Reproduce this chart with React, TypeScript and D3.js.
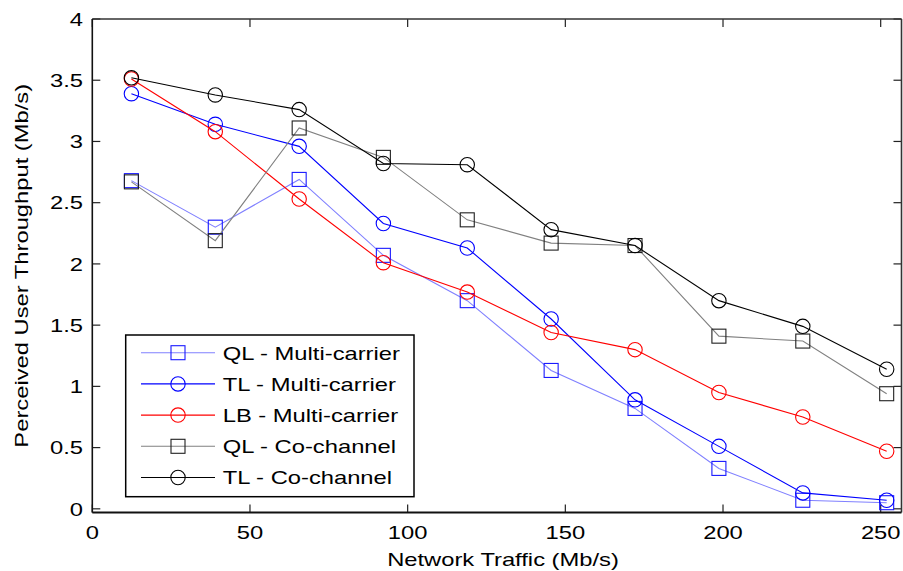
import React from "react";
import * as d3 from "d3";

const xValues = [12.4, 39.0, 65.6, 92.3, 118.9, 145.5, 172.1, 198.7, 225.3, 251.9];
const qlMulti = [2.68, 2.30, 2.69, 2.07, 1.70, 1.13, 0.82, 0.33, 0.07, 0.05];
const tlMulti = [3.39, 3.14, 2.96, 2.33, 2.13, 1.55, 0.89, 0.51, 0.13, 0.07];
const lbMulti = [3.51, 3.08, 2.53, 2.01, 1.77, 1.44, 1.30, 0.95, 0.75, 0.47];
const qlCo = [2.67, 2.19, 3.11, 2.87, 2.36, 2.17, 2.15, 1.41, 1.37, 0.94];
const tlCo = [3.52, 3.38, 3.26, 2.82, 2.81, 2.28, 2.15, 1.70, 1.49, 1.14];

const xTicks = [0, 50, 100, 150, 200, 250];
const yTicks = [0, 0.5, 1, 1.5, 2, 2.5, 3, 3.5, 4];
const yTickLabels = ["0", "0.5", "1", "1.5", "2", "2.5", "3", "3.5", "4"];

const seriesNames = [
  "QL - Multi-carrier",
  "TL - Multi-carrier",
  "LB - Multi-carrier",
  "QL - Co-channel",
  "TL - Co-channel",
];

const series = [
  { name: seriesNames[0], values: qlMulti, line: "#8080ff", marker: "#1a1aff", shape: "square" },
  { name: seriesNames[1], values: tlMulti, line: "#0000ff", marker: "#0000ff", shape: "circle" },
  { name: seriesNames[2], values: lbMulti, line: "#ff0000", marker: "#ff0000", shape: "circle" },
  { name: seriesNames[3], values: qlCo, line: "#808080", marker: "#202020", shape: "square" },
  { name: seriesNames[4], values: tlCo, line: "#000000", marker: "#000000", shape: "circle" },
];

const W = 903;
const H = 571;
const L = 92.3;
const R = 901.5;
const T = 19;
const B = 512.5;
const FS = 19;
const SX = 1.25;
const FONT = "'Liberation Sans', Arial, sans-serif";

const x = d3.scaleLinear().domain([0, 256.6]).range([L, R]);
const y = d3.scaleLinear().domain([-0.03, 4]).range([B, T]);

function Marker({ cx, cy, shape, color }: { cx: number; cy: number; shape: string; color: string }) {
  if (shape === "square") {
    return <rect x={cx - 7} y={cy - 7} width={14} height={14} fill="none" stroke={color} strokeWidth={1.1} />;
  }
  return <circle cx={cx} cy={cy} r={7.2} fill="none" stroke={color} strokeWidth={1.1} />;
}

export default function App() {
  const line = d3
    .line<number>()
    .x((_, i) => x(xValues[i]))
    .y((v) => y(v));

  const legX = 125.7;
  const legY = 335;
  const legW = 288.3;
  const legH = 161.7;
  const rowY = (i: number) => 352.7 + i * 31.2;

  return (
    <svg width={W} height={H} style={{ position: "absolute", left: 0, top: 0, background: "#fff" }} fontFamily={FONT}>
      <rect x={0} y={0} width={W} height={H} fill="#fff" />
      {/* ticks */}
      {xTicks.map((t) => (
        <g key={"xt" + t}>
          <line x1={x(t)} x2={x(t)} y1={B} y2={B - 8} stroke="#222" strokeWidth={1.2} />
          <line x1={x(t)} x2={x(t)} y1={T} y2={T + 8} stroke="#222" strokeWidth={1.2} />
          <text
            transform={`translate(${x(t)},${539}) scale(${SX},1)`}
            textAnchor="middle"
            fontSize={FS}
            fill="#000"
          >
            {t}
          </text>
        </g>
      ))}
      {yTicks.map((t, i) => (
        <g key={"yt" + t}>
          <line x1={L} x2={L + 8} y1={y(t)} y2={y(t)} stroke="#222" strokeWidth={1.2} />
          <line x1={R} x2={R - 8} y1={y(t)} y2={y(t)} stroke="#222" strokeWidth={1.2} />
          <text
            transform={`translate(${83},${y(t) + 6.8}) scale(${SX},1)`}
            textAnchor="end"
            fontSize={FS}
            fill="#000"
          >
            {yTickLabels[i]}
          </text>
        </g>
      ))}
      {/* series */}
      {series.map((s) => (
        <g key={s.name}>
          <path d={line(s.values) || ""} fill="none" stroke={s.line} strokeWidth={1.1} />
          {s.values.map((v, i) => (
            <Marker key={i} cx={x(xValues[i])} cy={y(v)} shape={s.shape} color={s.marker} />
          ))}
        </g>
      ))}
      {/* axes box */}
      <line x1={L} x2={R} y1={T} y2={T} stroke="#333" strokeWidth={1.6} />
      <line x1={R} x2={R} y1={T} y2={B} stroke="#333" strokeWidth={1.6} />
      <line x1={L} x2={L} y1={T} y2={B} stroke="#111" strokeWidth={1.6} />
      <line x1={L} x2={R} y1={B} y2={B} stroke="#111" strokeWidth={2} />
      {/* axis labels */}
      <text
        transform={`translate(${503},${566}) scale(${SX},1)`}
        textAnchor="middle"
        fontSize={FS}
        fill="#000"
      >
        Network Traffic (Mb/s)
      </text>
      <text
        transform={`translate(${28},${(T + B) / 2}) rotate(-90) scale(${SX},1)`}
        textAnchor="middle"
        fontSize={FS}
        fill="#000"
      >
        Perceived User Throughput (Mb/s)
      </text>
      {/* legend */}
      <rect x={legX} y={legY} width={legW} height={legH} fill="#fff" stroke="#000" strokeWidth={1.5} />
      {series.map((s, i) => (
        <g key={"lg" + i}>
          <line x1={141} x2={215} y1={rowY(i)} y2={rowY(i)} stroke={s.line} strokeWidth={1.1} />
          <Marker cx={178} cy={rowY(i)} shape={s.shape} color={s.marker} />
          <text
            transform={`translate(${222.7},${rowY(i) + 6.8}) scale(${SX},1)`}
            fontSize={FS}
            fill="#000"
          >
            {s.name}
          </text>
        </g>
      ))}
    </svg>
  );
}
